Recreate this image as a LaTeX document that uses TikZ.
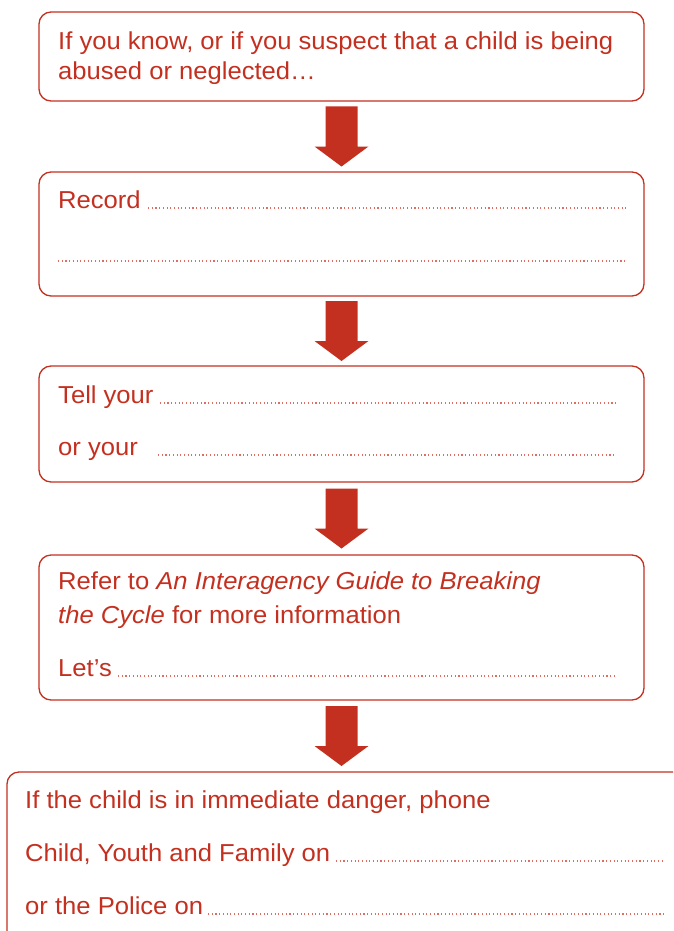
\documentclass[tikz,border=0pt]{standalone}
\usepackage{fontspec}
\setmainfont[FakeStretch=1.045]{Liberation Sans}
\usetikzlibrary{calc}
\definecolor{cred}{RGB}{196,48,32}
\definecolor{cdot}{RGB}{222,110,100}
\begin{document}
\begin{tikzpicture}[x=1pt,y=-1pt,
  box/.style={draw=cred, line width=1.3pt, rounded corners=12pt, inner sep=0pt},
  txt/.style={anchor=base west, inner sep=0pt, text=cred, font=\fontsize{24.5}{28}\selectfont},
  dots/.style={draw=cdot, line width=1.1pt, dash pattern=on 1.1pt off 2.6pt},
  bigarrow/.style={fill=cred, draw=none}]
\useasboundingbox (0,0) rectangle (673,931);
\clip (0,0) rectangle (673,931);
% boxes
\node[box, minimum width=605pt, minimum height=89pt] (b1) at (341.5,56.5) {};
\node[box, minimum width=605pt, minimum height=124pt] (b2) at (341.5,234) {};
\node[box, minimum width=605pt, minimum height=116pt] (b3) at (341.5,424) {};
\node[box, minimum width=605pt, minimum height=145pt] (b4) at (341.5,627.5) {};
\node[box, minimum width=693pt, minimum height=190pt] (b5) at (353.5,867) {};
% arrows
\foreach \a/\b in {b1/b2,b2/b3,b3/b4,b4/b5}{
  \path ($(\a.south)!0.5!(\a.south |- \b.north)$) coordinate (m);
  \fill[bigarrow] ([shift={(-16,-30)}]m) -- ([shift={(16,-30)}]m) -- ([shift={(16,10)}]m)
     -- ([shift={(27,10)}]m) -- ([shift={(0,30)}]m) -- ([shift={(-27,10)}]m)
     -- ([shift={(-16,10)}]m) -- cycle;
}
% box 1
\node[txt] (t1a) at (58,50) {If you know, or if you suspect that a child is being};
\node[txt] (t1b) at (58,80) {abused or neglected\ldots};
% box 2
\node[txt] (t2a) at (58,208) {Record};
\coordinate (d2as) at (148,208); \coordinate (d2ae) at (626,208);
\coordinate (d2bs) at (58,261); \coordinate (d2be) at (626,261);
\draw[dots] (d2as) -- (d2ae);
\draw[dots] (d2bs) -- (d2be);
% box 3
\node[txt] (t3a) at (58,403) {Tell your};
\node[txt] (t3b) at (58,455) {or your};
\coordinate (d3as) at (160,403); \coordinate (d3ae) at (616,403);
\coordinate (d3bs) at (158,455); \coordinate (d3be) at (614,455);
\draw[dots] (d3as) -- (d3ae);
\draw[dots] (d3bs) -- (d3be);
% box 4
\node[txt] (t4a) at (58,589) {Refer to \textit{An Interagency Guide to Breaking}};
\node[txt] (t4b) at (58,623) {\textit{the Cycle} for more information};
\node[txt] (t4c) at (58,676) {Let’s};
\coordinate (d4s) at (118,676); \coordinate (d4e) at (616,676);
\draw[dots] (d4s) -- (d4e);
% box 5
\node[txt] (t5a) at (25,808) {If the child is in immediate danger, phone};
\node[txt] (t5b) at (25,861) {Child, Youth and Family on};
\node[txt] (t5c) at (25,914) {or the Police on};
\coordinate (d5as) at (336,861); \coordinate (d5ae) at (665,861);
\coordinate (d5bs) at (208,914); \coordinate (d5be) at (666,914);
\draw[dots] (d5as) -- (d5ae);
\draw[dots] (d5bs) -- (d5be);
\end{tikzpicture}
\end{document}
